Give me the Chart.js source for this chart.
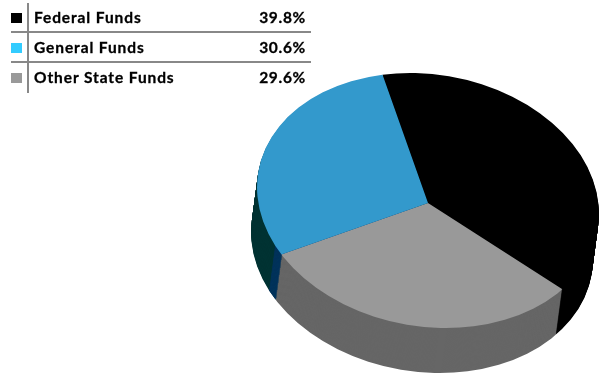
<!DOCTYPE html>
<html>
<head>
<meta charset="utf-8">
<style>
    body { margin: 0; background: #fff; }
    #wrap { position: relative; width: 600px; height: 374px; overflow: hidden; }
    #pie { position: absolute; left: 0; top: 0; }
    #legend { position: absolute; left: 11px; top: 3px; width: 300px; height: 90px; font: bold 15.5px Lato, sans-serif; color: #000; -webkit-text-stroke: 0.3px #000; }
    .row { position: relative; box-sizing: border-box; height: 30px; border-bottom: 2px solid #888; }
    .row:last-child { border-bottom: none; }
    .swatch { position: absolute; left: 0; top: 10px; width: 11px; height: 10px; }
    .name { position: absolute; left: 23px; top: 5px; letter-spacing: 0.9px; }
    .pct { position: absolute; right: 5px; top: 5px; letter-spacing: 0.7px; }
    #rule { position: absolute; left: 27px; top: 3px; width: 2px; height: 90px; background: #888; }
</style>
</head>
<body>
<div id="wrap">
    <canvas id="pie" width="600" height="374"></canvas>
    <div id="legend"></div>
    <div id="rule"></div>
</div>
<script src="https://cdn.jsdelivr.net/npm/chart.js@4"></script>
<script>
const categories = ['Federal Funds', 'Other State Funds', 'General Funds'];
const shares = [39.8, 29.6, 30.6];
const topColors = ['#000000', '#999999', '#3399cc'];
const wallColors = ['#000000', '#666666', '#003333'];
const legendOrder = [0, 2, 1];
const legendColors = ['#000000', '#33ccff', '#999999'];

// the thin navy strip on the side of the blue slice, in percent
const navyStripShare = 1.3;
const navyStripColor = '#003366';

// how the flat pie is tilted onto the page
const apex = {x: 428, y: 203};
const tiltMatrix = [240.8, -16.4, 58.5, 165.1];
const rim = {x: 428, y: 200.5, rx: 172.1, ry: 126, rotation: 9.6 * Math.PI / 180};
const wallDepth = 45;
const wallShift = -6;

function drawSlice(ctx, arc, color, dx, dy) {
    let saved = arc.options;
    let r = arc.outerRadius;
    arc.options = Object.create(saved, {backgroundColor: {value: color}});
    ctx.save();
    ctx.beginPath();
    ctx.ellipse(rim.x + dx, rim.y + dy, rim.rx, rim.ry, rim.rotation, 0, Math.PI * 2);
    ctx.clip();
    ctx.translate(apex.x + dx, apex.y + dy);
    ctx.transform(tiltMatrix[0] / r, tiltMatrix[1] / r, tiltMatrix[2] / r, tiltMatrix[3] / r, 0, 0);
    ctx.translate(-arc.x, -arc.y);
    arc.draw(ctx);
    ctx.restore();
    arc.options = saved;
}

const tiltedPie = {
    id: 'tiltedPie',
    beforeDatasetsDraw(chart) {
        let ctx = chart.ctx;
        let arcs = chart.getDatasetMeta(0).data;

        for (let k = wallDepth; k >= 1; k--) {
            let dx = wallShift * k / wallDepth;
            arcs.forEach((arc, i) => {
                drawSlice(ctx, arc, wallColors[i], dx, k);
            });
            // navy strip is the first bit of the blue slice
            let blue = arcs[2];
            let end = blue.endAngle, circ = blue.circumference;
            blue.circumference = navyStripShare / 100 * Math.PI * 2;
            blue.endAngle = blue.startAngle + blue.circumference;
            drawSlice(ctx, blue, navyStripColor, dx, k);
            blue.endAngle = end;
            blue.circumference = circ;
        }
        arcs.forEach((arc, i) => {
            drawSlice(ctx, arc, topColors[i], 0, 0);
        });
        return false;
    }
};

new Chart(document.getElementById('pie').getContext('2d'), {
    type: 'pie',
    data: {
        labels: categories,
        datasets: [{
            data: shares,
            backgroundColor: topColors,
            borderWidth: 0
        }]
    },
    options: {
        responsive: false,
        animation: false,
        events: [],
        plugins: {
            legend: {display: false},
            tooltip: {enabled: false}
        }
    },
    plugins: [tiltedPie]
});

let legend = document.getElementById('legend');
legendOrder.forEach((i, n) => {
    let row = document.createElement('div');
    row.className = 'row';
    row.innerHTML = `<div class="swatch" style="background:${legendColors[n]}"></div>` +
        `<div class="name">${categories[i]}</div><div class="pct">${shares[i].toFixed(1)}%</div>`;
    legend.appendChild(row);
});
</script>
</body>
</html>
